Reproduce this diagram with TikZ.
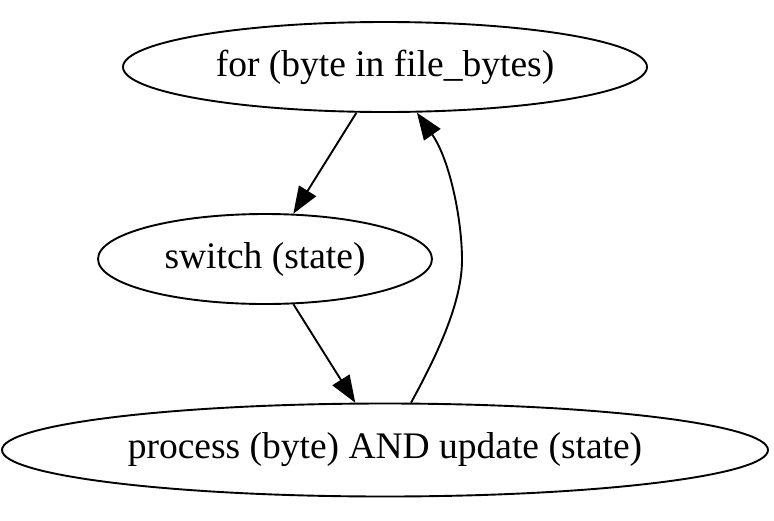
\documentclass[tikz,border=0pt]{standalone}
\usepackage{fontspec}
\setmainfont{Liberation Serif}
\usetikzlibrary{shapes.geometric,arrows.meta}

\begin{document}
\begin{tikzpicture}[x=1pt, y=-1pt,
        state/.style={draw, ellipse, line width=1.9pt, inner sep=0pt,
            font=\fontsize{37.5}{44}\selectfont},
        edge/.style={line width=1.9pt, -{Triangle[length=27pt, width=20pt]}}]
        \useasboundingbox (0, 0) rectangle (774, 520);
        \node[state, minimum width=524, minimum height=90] (loop) at (385, 67) {for (byte in file\_bytes)};
        \node[state, minimum width=334, minimum height=90] (switch) at (265, 259) {switch (state)};
        \node[state, minimum width=766, minimum height=93] (process) at (385, 450) {process (byte) AND update (state)};
        \draw[edge] (loop) -- (switch);
        \draw[edge] (switch) -- (process);
        \draw[edge] (process) .. controls (440, 350) and (462, 300) .. (462, 260)
            .. controls (462, 220) and (450, 160) .. (loop);
    \end{tikzpicture}
\end{document}
